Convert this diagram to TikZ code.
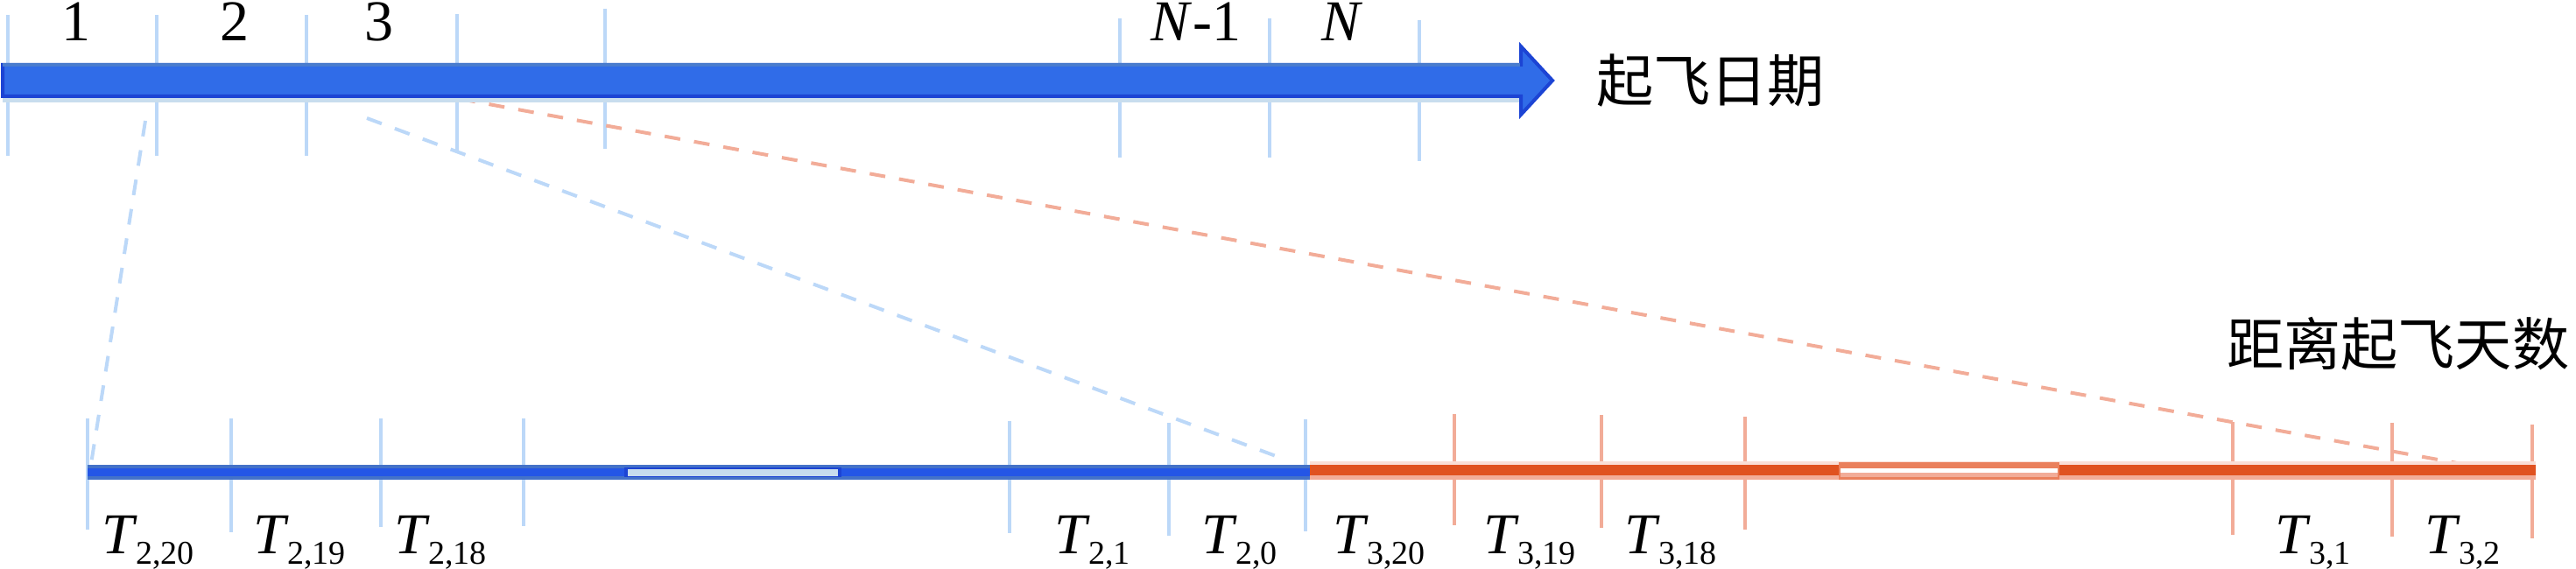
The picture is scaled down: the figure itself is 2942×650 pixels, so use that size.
\documentclass[tikz,border=0pt]{standalone}
\usepackage{fontspec}
\setmainfont{Liberation Serif}
\newfontfamily\cjk{Noto Sans CJK SC}
\definecolor{arrowblue}{RGB}{48,108,232}
\definecolor{edgeblue}{RGB}{28,68,212}
\definecolor{topblue}{RGB}{74,124,206}
\definecolor{paleblue}{RGB}{188,216,248}
\definecolor{shadeblue}{RGB}{200,221,238}
\definecolor{barblue}{RGB}{36,86,230}
\definecolor{bandblue}{RGB}{68,114,200}
\definecolor{barorange}{RGB}{224,82,32}
\definecolor{paleorange}{RGB}{242,172,152}
\definecolor{bandorange}{RGB}{234,128,92}
\newcommand{\tsub}[1]{\textit{T}\kern-.3pt\raisebox{-3pt}{\fontsize{9.5}{10}\selectfont #1}}

\begin{document}
\begin{tikzpicture}[x=.25pt,y=-.25pt,line width=.5pt,
  tickb/.style={paleblue,line width=.9pt},
  ticko/.style={paleorange,line width=.9pt},
  dashb/.style={paleblue,line width=1pt,dash pattern=on 4.5pt off 4pt},
  dasho/.style={paleorange,line width=1pt,dash pattern=on 4.5pt off 4pt},
  numlab/.style={anchor=base,inner sep=0pt,font=\fontsize{16.5}{18}\selectfont},
  tlab/.style={anchor=base west,inner sep=0pt,font=\fontsize{16.5}{18}\selectfont},
  cnlab/.style={anchor=west,inner sep=0pt,font=\cjk\fontsize{16.3}{18}\selectfont}]
\path[use as bounding box] (0,0) rectangle (2942,650);
\draw[tickb] (9,17) -- (9,178);
\draw[tickb] (179,17) -- (179,178);
\draw[tickb] (350,17) -- (350,178);
\draw[tickb] (522,16) -- (522,172);
\draw[tickb] (691,10) -- (691,170);
\draw[tickb] (1279,21) -- (1279,180);
\draw[tickb] (1450,21) -- (1450,180);
\draw[tickb] (1621,23) -- (1621,184);
\coordinate (s1) at (166,138);
\coordinate (e1) at (104,530);
\coordinate (s2) at (419,135);
\coordinate (e2) at (1468,525);
\coordinate (s3) at (525,113);
\coordinate (e3) at (2839,535);
\draw[dashb] (s1) -- (e1);
\draw[dashb] (s2) -- (e2);
\draw[dasho] (s3) -- (e3);
\fill[shadeblue] (3,72) rectangle (1737,117);
\draw[edgeblue,fill=arrowblue,line width=1pt] (3,74) -- (1737,74) -- (1737,53) -- (1773,92) -- (1737,131) -- (1737,110) -- (3,110) -- cycle;
\fill[topblue] (3,72) rectangle (1736,76);
\node[numlab] (n1) at (87,47) {1};
\node[numlab] (n2) at (268,47) {2};
\node[numlab] (n3) at (433,47) {3};
\node[numlab] (nm1) at (1366,47) {\textit{N}-1};
\node[numlab] (nn) at (1533,47) {\textit{N}};
\node[cnlab] (datelab) at (1822,92) {起飞日期};
\node[cnlab] (daylab) at (2542,393) {距离起飞天数};
\draw[tickb] (100,478) -- (100,605);
\draw[tickb] (264,478) -- (264,608);
\draw[tickb] (435,478) -- (435,602);
\draw[tickb] (598,478) -- (598,601);
\draw[tickb] (1153,481) -- (1153,609);
\draw[tickb] (1335,483) -- (1335,612);
\draw[tickb] (1491,479) -- (1491,607);
\draw[ticko] (1661,473) -- (1661,600);
\draw[ticko] (1829,474) -- (1829,603);
\draw[ticko] (1993,476) -- (1993,605);
\draw[ticko] (2550,482) -- (2550,611);
\draw[ticko] (2732,483) -- (2732,613);
\draw[ticko] (2892,485) -- (2892,615);
\fill[bandblue] (100,531) rectangle (1496,548);
\fill[barblue] (100,535) rectangle (1496,544);
\fill[edgeblue] (713,534) rectangle (961,545);
\fill[shadeblue] (717,536) rectangle (957,544);
\fill[paleorange!40] (1496,527) rectangle (2896,531);
\fill[barorange] (1496,531) rectangle (2896,543);
\fill[paleorange] (1496,543) rectangle (2896,548);
\fill[bandorange] (2100,528) rectangle (2352,548);
\fill[white] (2102,535) rectangle (2350,540);
\fill[paleorange] (2102,540) rectangle (2350,545);
\node[tlab] (t220) at (115,633) {\tsub{2,20}};
\node[tlab] (t219) at (288,633) {\tsub{2,19}};
\node[tlab] (t218) at (449,633) {\tsub{2,18}};
\node[tlab] (t21) at (1203,633) {\tsub{2,1}};
\node[tlab] (t20) at (1371,633) {\tsub{2,0}};
\node[tlab] (t320) at (1521,633) {\tsub{3,20}};
\node[tlab] (t319) at (1693,633) {\tsub{3,19}};
\node[tlab] (t318) at (1854,633) {\tsub{3,18}};
\node[tlab] (t31) at (2597,633) {\tsub{3,1}};
\node[tlab] (t32) at (2768,633) {\tsub{3,2}};
\end{tikzpicture}
\end{document}
